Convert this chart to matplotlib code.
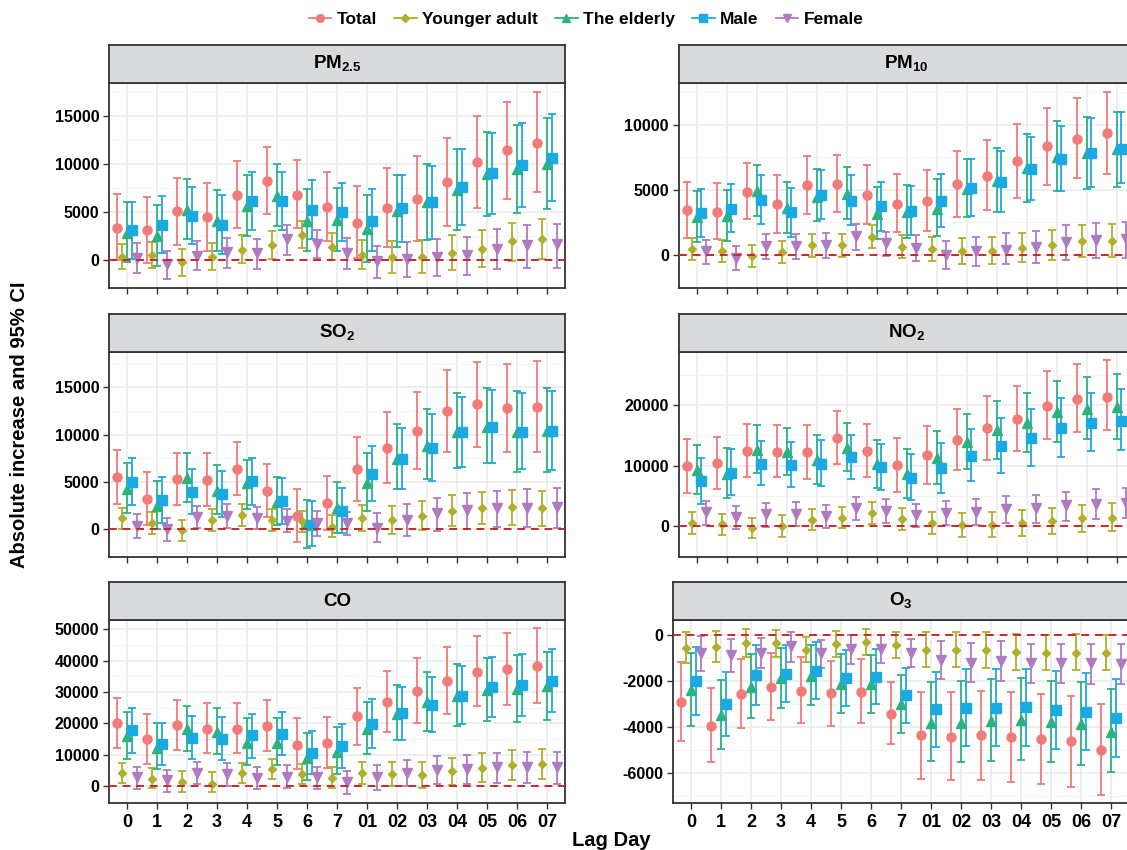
import matplotlib.pyplot as plt
from matplotlib.lines import Line2D
import numpy as np

plt.rcParams['font.family'] = ['Liberation Sans', 'DejaVu Sans']
plt.rcParams['font.weight'] = 'bold'
plt.rcParams['mathtext.fontset'] = 'custom'
plt.rcParams['mathtext.rm'] = 'Liberation Sans:bold'
plt.rcParams['mathtext.bf'] = 'Liberation Sans:bold'

lags = ['0', '1', '2', '3', '4', '5', '6', '7', '01', '02', '03', '04', '05', '06', '07']
groups = ['Total', 'Younger adult', 'The elderly', 'Male', 'Female']

# ---- PM2.5 ----
pm25_est = {
    'Total': [3280, 3070, 5050, 4430, 6760, 8260, 6760, 5540, 3870, 5440, 6380, 8120, 10170, 11430, 12230],
    'Younger adult': [310, 520, -280, 310, 1050, 1570, 2610, 1360, 450, 280, 310, 700, 1150, 1920, 2130],
    'The elderly': [2820, 2470, 5190, 4040, 5610, 6660, 4080, 4110, 3170, 5090, 5990, 7250, 8950, 9510, 9970],
    'Male': [3100, 3620, 4560, 3660, 6170, 6170, 5190, 4950, 4080, 5370, 6030, 7560, 9020, 9900, 10630],
    'Female': [140, -490, 420, 800, 660, 2130, 1640, 660, -170, 30, 280, 450, 1150, 1570, 1640],
}
pm25_low = {
    'Total': [-30, -300, 1570, 940, 3280, 4810, 3280, 1950, 140, 1360, 1990, 3520, 5400, 6380, 7070],
    'Younger adult': [-1010, -870, -1670, -1080, -350, 100, 1220, -30, -1010, -1360, -1360, -1050, -770, -100, 70],
    'The elderly': [-240, -630, 2130, 940, 2470, 3550, 940, 940, -200, 1360, 2020, 3100, 4560, 4910, 5330],
    'Male': [100, 660, 1640, 630, 3100, 3100, 2160, 1920, 870, 1810, 2160, 3590, 4810, 5540, 6170],
    'Female': [-1360, -2060, -1080, -870, -1010, 520, 140, -1010, -1920, -1850, -1670, -1600, -1010, -870, -870],
}
pm25_high = {
    'Total': [6830, 6590, 8570, 7980, 10350, 11810, 10420, 9200, 7700, 9580, 10840, 12750, 15020, 16480, 17460],
    'Younger adult': [1670, 1850, 1080, 1780, 2540, 3030, 4040, 2820, 2060, 1920, 2090, 2610, 3100, 3870, 4250],
    'The elderly': [6030, 5750, 8470, 7280, 8890, 10000, 7420, 7530, 6790, 8850, 9970, 11600, 13380, 14110, 14770],
    'Male': [6030, 6660, 7630, 6720, 9200, 9200, 8290, 8050, 7390, 8890, 9790, 11600, 13280, 14320, 15230],
    'Female': [1710, 940, 1950, 2260, 2130, 3620, 3140, 2230, 1430, 1880, 2130, 2400, 3210, 3590, 3760],
}

# ---- PM10 ----
pm10_est = {
    'Total': [3460, 3340, 4830, 3880, 5340, 5490, 4610, 3950, 4120, 5440, 6100, 7220, 8370, 8950, 9370],
    'Younger adult': [460, 340, -100, 220, 760, 730, 1390, 610, 460, 290, 320, 510, 760, 1070, 1100],
    'The elderly': [2950, 3000, 4880, 3590, 4460, 4680, 3170, 3320, 3560, 5100, 5710, 6660, 7560, 7800, 8120],
    'Male': [3200, 3560, 4240, 3290, 4630, 4170, 3730, 3410, 4120, 5170, 5630, 6590, 7340, 7830, 8170],
    'Female': [270, -220, 680, 680, 760, 1440, 950, 510, 20, 270, 410, 610, 1000, 1120, 1200],
}
pm10_low = {
    'Total': [1290, 1220, 2760, 1680, 3170, 3320, 2390, 1730, 1830, 2930, 3460, 4390, 5390, 5950, 6240],
    'Younger adult': [-410, -540, -950, -630, -120, -170, 540, -270, -440, -710, -710, -560, -410, -170, -150],
    'The elderly': [1000, 1070, 3020, 1680, 2630, 2760, 1200, 1340, 1490, 2880, 3320, 4070, 4950, 5100, 5240],
    'Male': [1390, 1730, 2410, 1390, 2780, 2290, 1880, 1540, 2120, 3000, 3340, 4220, 4900, 5220, 5510],
    'Female': [-680, -1150, -290, -340, -220, 390, -100, -460, -1070, -830, -710, -590, -370, -240, -220],
}
pm10_high = {
    'Total': [5630, 5540, 7050, 6120, 7590, 7710, 6880, 6240, 6510, 7980, 8800, 10050, 11290, 12050, 12510],
    'Younger adult': [1340, 1170, 760, 1070, 1630, 1610, 2270, 1510, 1390, 1340, 1390, 1680, 1930, 2290, 2390],
    'The elderly': [4950, 4980, 6930, 5630, 6630, 6780, 5220, 5370, 5830, 7410, 8200, 9270, 10290, 10610, 11020],
    'Male': [5100, 5460, 6120, 5170, 6540, 6120, 5610, 5320, 6200, 7340, 8000, 9070, 9930, 10490, 10950],
    'Female': [1170, 710, 1610, 1610, 1710, 2370, 1800, 1540, 1070, 1410, 1660, 1880, 2270, 2460, 2540],
}

# ---- SO2 ----
so2_est = {
    'Total': [5490, 3200, 5320, 5250, 6370, 4050, 1410, 2820, 6340, 8590, 10420, 12460, 13200, 12780, 12960],
    'Younger adult': [1160, 630, -70, 990, 1510, 990, 850, 280, 1230, 990, 1440, 1970, 2220, 2320, 2250],
    'The elderly': [4230, 2500, 5390, 4050, 4930, 2920, 530, 2290, 4930, 7390, 8840, 10250, 10770, 10250, 10350],
    'Male': [5000, 3100, 3940, 3730, 5070, 2990, 420, 1970, 5880, 7430, 8630, 10250, 10810, 10250, 10350],
    'Female': [350, 0, 1300, 1440, 1200, 920, 630, 700, 180, 990, 1690, 2040, 2220, 2250, 2390],
}
so2_low = {
    'Total': [2680, 420, 2610, 2500, 3630, 1340, -1370, -40, 3030, 4930, 6410, 8200, 8730, 8170, 8200],
    'Younger adult': [0, -530, -1200, -140, 350, -180, -250, -770, -180, -490, -70, 350, 530, 490, 390],
    'The elderly': [1760, 70, 2920, 1620, 2180, 420, -2010, -420, 1900, 4230, 5280, 6510, 6970, 6020, 6020],
    'Male': [2610, 700, 1650, 1300, 2610, 600, -1760, -350, 2990, 4230, 5110, 6620, 7040, 6340, 6270],
    'Female': [-950, -1230, 180, 110, 0, -320, -700, -600, -1300, -700, -140, 0, 280, 210, 180],
}
so2_high = {
    'Total': [8380, 6060, 8100, 8100, 9230, 6940, 4230, 5670, 9750, 12360, 14510, 16800, 17710, 17460, 17820],
    'Younger adult': [2290, 1800, 990, 2150, 2640, 2150, 1940, 1510, 2610, 2430, 3030, 3630, 3980, 4120, 4080],
    'The elderly': [6970, 5140, 8030, 6800, 7360, 5560, 3100, 4960, 8100, 11090, 12710, 14400, 14960, 14580, 14890],
    'Male': [7540, 5560, 6410, 6160, 7540, 5460, 2990, 4400, 8840, 10700, 12180, 13980, 14750, 14400, 14580],
    'Female': [1580, 1160, 2430, 2640, 2360, 2110, 1940, 1830, 1690, 2640, 3350, 3800, 4080, 4230, 4400],
}

# ---- NO2 ----
no2_est = {
    'Total': [9920, 10390, 12380, 12320, 12270, 14620, 12480, 10080, 11800, 14260, 16190, 17750, 19790, 20940, 21410],
    'Younger adult': [570, 370, -260, 100, 990, 1410, 2140, 1200, 520, 210, 160, 520, 840, 1310, 1410],
    'The elderly': [9240, 8560, 12640, 12220, 10970, 12950, 10290, 8620, 11230, 13940, 15930, 17080, 18800, 19430, 19690],
    'Male': [7520, 8830, 10340, 10130, 10290, 11380, 9770, 8040, 9560, 11640, 13320, 14620, 16240, 17020, 17440],
    'Female': [2350, 1510, 1980, 2090, 1720, 3080, 2560, 1930, 2190, 2450, 2870, 3080, 3500, 3760, 3920],
}
no2_low = {
    'Total': [5480, 6110, 8200, 8150, 7890, 10290, 8150, 5740, 7050, 9350, 10970, 12380, 14360, 15510, 15820],
    'Younger adult': [-1200, -1360, -1980, -1720, -680, -310, 370, -570, -1310, -1720, -1830, -1620, -1310, -940, -780],
    'The elderly': [5380, 4650, 8830, 8410, 7050, 9140, 6270, 4700, 7000, 9500, 11170, 12220, 13940, 14460, 14460],
    'Male': [3660, 5220, 6740, 6480, 6630, 7780, 5950, 4280, 5480, 7470, 8880, 10030, 11490, 12380, 12530],
    'Female': [210, -470, -50, 50, -260, 1040, 520, -160, 160, 210, 520, 570, 940, 1250, 1310],
}
no2_high = {
    'Total': [14400, 14670, 16810, 16710, 16710, 18960, 16920, 14570, 16610, 19320, 21460, 23190, 25540, 26740, 27420],
    'Younger adult': [2350, 2090, 1410, 1830, 2820, 3240, 3970, 2980, 2450, 2190, 2350, 2720, 3080, 3600, 3860],
    'The elderly': [13370, 12900, 16710, 16290, 15040, 17020, 14260, 12790, 15670, 18540, 20630, 21980, 23970, 24700, 25170],
    'Male': [11330, 12790, 14050, 13940, 14200, 15090, 13520, 11910, 13680, 16080, 17810, 19320, 21200, 22040, 22660],
    'Female': [4180, 3340, 3810, 3970, 3600, 4910, 4440, 3760, 4180, 4540, 4960, 5220, 5740, 6210, 6370],
}

# ---- CO ----
co_est = {
    'Total': [20000, 14900, 19500, 18300, 18300, 19300, 13200, 13800, 22200, 26800, 30200, 33400, 36400, 37300, 38300],
    'Younger adult': [4300, 2300, 1300, 700, 4300, 5300, 3700, 2600, 4000, 3700, 3600, 4700, 5900, 6700, 6900],
    'The elderly': [16000, 12200, 18100, 17200, 13800, 13800, 8900, 10900, 18100, 23100, 26800, 28700, 30600, 31000, 31800],
    'Male': [17800, 13400, 15300, 14900, 16200, 16600, 10600, 12800, 19700, 23200, 25900, 28800, 31500, 32100, 33500],
    'Female': [2900, 1800, 4300, 3700, 2700, 3000, 2800, 1400, 2800, 4300, 5100, 5300, 6100, 6200, 6000],
}
co_low = {
    'Total': [12000, 7100, 11500, 10400, 10400, 11300, 5300, 5900, 13200, 17200, 20200, 22900, 25500, 25900, 26600],
    'Younger adult': [900, -700, -1800, -2000, 1100, 2100, 500, -600, 500, 0, -500, 400, 1400, 2000, 2300],
    'The elderly': [8500, 5500, 11200, 10200, 6800, 6700, 2000, 3800, 10200, 14600, 17700, 19100, 20700, 20400, 21000],
    'Male': [10700, 6600, 8500, 8200, 9100, 9800, 3700, 5900, 12000, 14800, 17100, 19800, 22000, 22400, 23500],
    'Female': [-1100, -1800, 700, 0, -1100, -600, -1100, -2700, -1300, 0, 500, 500, 900, 900, 600],
}
co_high = {
    'Total': [28200, 23100, 27400, 26400, 26400, 27400, 21600, 22100, 31400, 36700, 40900, 44400, 47800, 49000, 50400],
    'Younger adult': [7400, 5600, 4700, 4400, 7400, 8500, 7100, 6000, 7700, 7700, 7700, 8900, 10500, 11500, 11800],
    'The elderly': [23600, 20000, 25600, 24900, 21600, 21600, 16900, 18800, 26700, 32200, 36400, 38900, 41000, 41800, 42800],
    'Male': [24800, 20200, 22200, 22000, 23100, 23500, 17700, 19800, 27800, 31500, 34900, 38300, 41300, 42200, 43800],
    'Female': [6200, 5100, 7800, 7200, 6000, 6700, 6200, 4700, 6700, 8400, 9500, 9900, 10700, 11000, 11000],
}

# ---- O3 ----
o3_est = {
    'Total': [-2890, -3930, -2570, -2250, -2410, -2530, -2470, -3420, -4350, -4410, -4350, -4410, -4520, -4620, -4970],
    'Younger adult': [-550, -510, -330, -350, -650, -400, -320, -430, -650, -650, -650, -750, -770, -770, -770],
    'The elderly': [-2380, -3470, -2240, -1880, -1780, -2140, -2140, -3010, -3800, -3800, -3710, -3670, -3770, -3870, -4190],
    'Male': [-2010, -3010, -1730, -1690, -1550, -1880, -1810, -2620, -3210, -3150, -3150, -3140, -3250, -3320, -3610],
    'Female': [-790, -880, -770, -480, -790, -620, -610, -780, -1080, -1200, -1110, -1230, -1230, -1230, -1260],
}
o3_low = {
    'Total': [-4600, -5530, -4030, -3700, -3830, -3930, -3830, -4750, -6230, -6300, -6270, -6360, -6470, -6580, -6940],
    'Younger adult': [-1230, -1160, -970, -970, -1180, -950, -870, -980, -1400, -1400, -1450, -1530, -1530, -1530, -1530],
    'The elderly': [-3930, -4940, -3580, -3150, -3050, -3380, -3380, -4230, -5460, -5530, -5460, -5420, -5530, -5640, -5950],
    'Male': [-3470, -4380, -3030, -2920, -2770, -3060, -3010, -3800, -4840, -4800, -4800, -4800, -4940, -5010, -5300],
    'Female': [-1560, -1600, -1450, -1160, -1450, -1260, -1230, -1370, -1910, -2040, -1980, -2100, -2100, -2120, -2120],
}
o3_high = {
    'Total': [-1170, -2280, -1040, -790, -970, -1140, -1050, -2050, -2470, -2470, -2410, -2470, -2570, -2630, -2990],
    'Younger adult': [140, 190, 270, 220, -70, 170, 250, 140, 120, 140, 140, 40, 10, 40, 10],
    'The elderly': [-790, -1970, -820, -550, -450, -820, -870, -1730, -2050, -2010, -1890, -1880, -1980, -2050, -2360],
    'Male': [-530, -1600, -450, -450, -290, -650, -620, -1420, -1590, -1490, -1490, -1460, -1560, -1630, -1890],
    'Female': [-40, -170, -140, 140, -220, -10, -10, -160, -250, -330, -260, -380, -380, -390, -400],
}

# Farben und Symbole wie im ggplot-Original
colors = {'Total': '#F07B78', 'Younger adult': '#AFAF2A', 'The elderly': '#2DB27D',
          'Male': '#1BA9E2', 'Female': '#B07AC0'}
markers = {'Total': 'o', 'Younger adult': 'D', 'The elderly': '^', 'Male': 's', 'Female': 'v'}
msizes = {'Total': 6.5, 'Younger adult': 4.5, 'The elderly': 7, 'Male': 6.5, 'Female': 7}
offsets = [-0.33, -0.165, 0.0, 0.165, 0.33]

W, H = 1127, 850
panel_w = 456
strip_h = 38


def rect(left, top, bottom):
    return [left / W, 1 - bottom / H, panel_w / W, (bottom - top) / H]


panels = [
    (r'$\mathbf{PM}_{\mathbf{2.5}}$', pm25_est, pm25_low, pm25_high, (-2900, 18480),
     [0, 5000, 10000, 15000], rect(109, 82.7, 287.5), False),
    (r'$\mathbf{PM}_{\mathbf{10}}$', pm10_est, pm10_low, pm10_high, (-1740, 13240),
     [0, 5000, 10000], rect(678.5, 82.7, 287.5), False),
    (r'$\mathbf{SO}_{\mathbf{2}}$', so2_est, so2_low, so2_high, (-2890, 18750),
     [0, 5000, 10000, 15000], rect(109, 351.7, 556.7), False),
    (r'$\mathbf{NO}_{\mathbf{2}}$', no2_est, no2_low, no2_high, (-3290, 28800),
     [0, 10000, 20000], rect(678.5, 351.7, 556.7), False),
    ('CO', co_est, co_low, co_high, (-5420, 52900),
     [0, 10000, 20000, 30000, 40000, 50000], rect(109, 620.3, 803), True),
    (r'$\mathbf{O}_{\mathbf{3}}$', o3_est, o3_low, o3_high, (-7290, 640),
     [-6000, -4000, -2000, 0], rect(673, 620.3, 803), True),
]

fig = plt.figure(figsize=(W / 100, H / 100), dpi=100)
x = np.arange(len(lags))

for title, est, low, high, ylim, yticks, r, show_x in panels:
    ax = fig.add_axes(r)
    for grp, off in zip(groups, offsets):
        e = np.array(est[grp])
        lo = np.array(low[grp])
        hi = np.array(high[grp])
        ax.errorbar(x + off, e, yerr=[e - lo, hi - e], fmt=markers[grp], color=colors[grp],
                    ms=msizes[grp], capsize=2.6, elinewidth=1.3, capthick=1.3, zorder=3)
    ax.axhline(0, color='#C8282A', ls=(0, (4, 3)), lw=1.4, zorder=4)

    ax.set_xlim(-0.6, len(lags) - 0.4)
    ax.set_ylim(*ylim)
    ax.set_xticks(x)
    ax.set_xticklabels(lags)
    ax.set_yticks(yticks)
    ax.set_yticklabels([str(t) for t in yticks])
    step = yticks[1] - yticks[0]
    ax.set_yticks(np.arange(yticks[0] - step / 2, ylim[1], step), minor=True)
    ax.grid(which='major', color='#E6EBEC', lw=1.1, zorder=0)
    ax.grid(which='minor', axis='y', color='#F1F3F4', lw=0.7, zorder=0)
    ax.set_axisbelow(True)
    ax.tick_params(which='major', length=4, width=1, color='#333333', labelsize=11.5, pad=3)
    ax.tick_params(which='minor', length=0)
    ax.tick_params(axis='x', labelbottom=show_x, labelsize=13, pad=4)
    for s in ax.spines.values():
        s.set_color('#333333')
        s.set_linewidth(1.3)

    # Streifen mit Titel oben
    sax = fig.add_axes([r[0], r[1] + r[3], r[2], strip_h / H])
    sax.set_facecolor('#D9DADC')
    sax.set_xticks([])
    sax.set_yticks([])
    for s in sax.spines.values():
        s.set_color('#333333')
        s.set_linewidth(1.3)
    sax.text(0.5, 0.5, title, ha='center', va='center', fontsize=13.5,
             fontweight='bold', transform=sax.transAxes)

fig.text(20 / W, 0.5, 'Absolute increase and 95% CI', rotation=90, ha='center', va='center',
         fontsize=14.5, fontweight='bold')
fig.text(611 / W, 1 - 840 / H, 'Lag Day', ha='center', va='center', fontsize=14.5, fontweight='bold')

handles = [Line2D([0], [0], color=colors[g], marker=markers[g], ms=msizes[g] * 0.85, lw=1.3) for g in groups]
fig.legend(handles, groups, loc='center', bbox_to_anchor=(586 / W, 1 - 19 / H), ncol=5,
           frameon=False, fontsize=12.5, handlelength=1.3, handletextpad=0.3, columnspacing=1.0)

fig.savefig('out.png', dpi=100)
